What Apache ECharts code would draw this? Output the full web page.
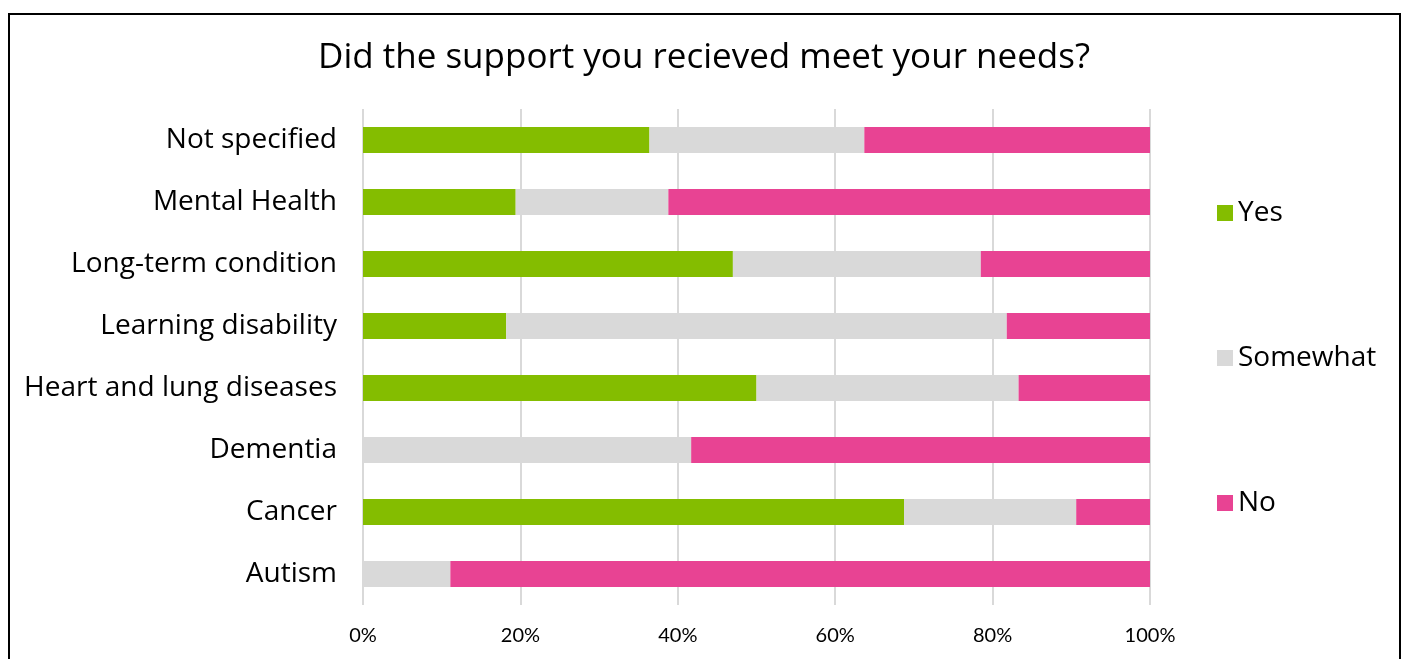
<!DOCTYPE html>
<html><head><meta charset="utf-8">
<script src="https://cdn.jsdelivr.net/npm/echarts@6/dist/echarts.min.js"></script>
<style>
html,body{margin:0;padding:0;background:#fff;}
#frame{position:absolute;left:8px;top:13px;width:1393px;height:660px;border:2px solid #000;box-sizing:border-box;}
#main{position:absolute;left:0;top:0;width:1408px;height:659px;}
</style></head>
<body>
<div id="frame"></div>
<div id="main"></div>
<script>
const categories = ["Not specified","Mental Health","Long-term condition","Learning disability","Heart and lung diseases","Dementia","Cancer","Autism"];
const yesValues = [36.4, 19.4, 47.0, 18.2, 50.0, 0, 68.75, 0];
const somewhatValues = [27.3, 19.4, 31.5, 63.6, 33.3, 41.7, 21.875, 11.1];
const noValues = [36.3, 61.2, 21.5, 18.2, 16.7, 58.3, 9.375, 88.9];
const seriesNames = ["Yes","Somewhat","No"];
const xTicks = [0,20,40,60,80,100];

const font = "'Open Sans', sans-serif";
const tickFont = "Lato, sans-serif";
const chart = echarts.init(document.getElementById('main'));
const cats = categories.slice().reverse();
const rev = a => a.slice().reverse();
const colors = ["#84bd00","#d9d9d9","#e84393"];
chart.setOption({
  animation:false,
  title:{text:"Did the support you recieved meet your needs?",left:'center',top:36,
    textStyle:{fontFamily:font,fontSize:35,fontWeight:'normal',color:'#000'}},
  legend:{orient:'vertical',left:1212,top:194,itemGap:117,itemWidth:16,itemHeight:16,icon:'rect',
    data:seriesNames,textStyle:{fontFamily:font,fontSize:28,color:'#000'}},
  grid:{left:363,right:258,top:109,bottom:54},
  xAxis:{type:'value',min:xTicks[0],max:xTicks[xTicks.length-1],interval:20,
    axisLabel:{formatter:'{value}%',fontFamily:tickFont,fontSize:20,color:'#000',margin:21},
    splitLine:{lineStyle:{color:'#d9d9d9',width:2}},axisLine:{show:false},axisTick:{show:false}},
  yAxis:{type:'category',data:cats,axisLine:{show:false},axisTick:{show:false},
    axisLabel:{fontFamily:font,fontSize:28,color:'#000',margin:26,padding:[3,0,0,0]}},
  series:[yesValues,somewhatValues,noValues].map((d,i)=>({
    name:seriesNames[i],type:'bar',stack:'s',data:rev(d),barWidth:26,
    itemStyle:{color:colors[i]}
  }))
});
</script>
</body></html>
